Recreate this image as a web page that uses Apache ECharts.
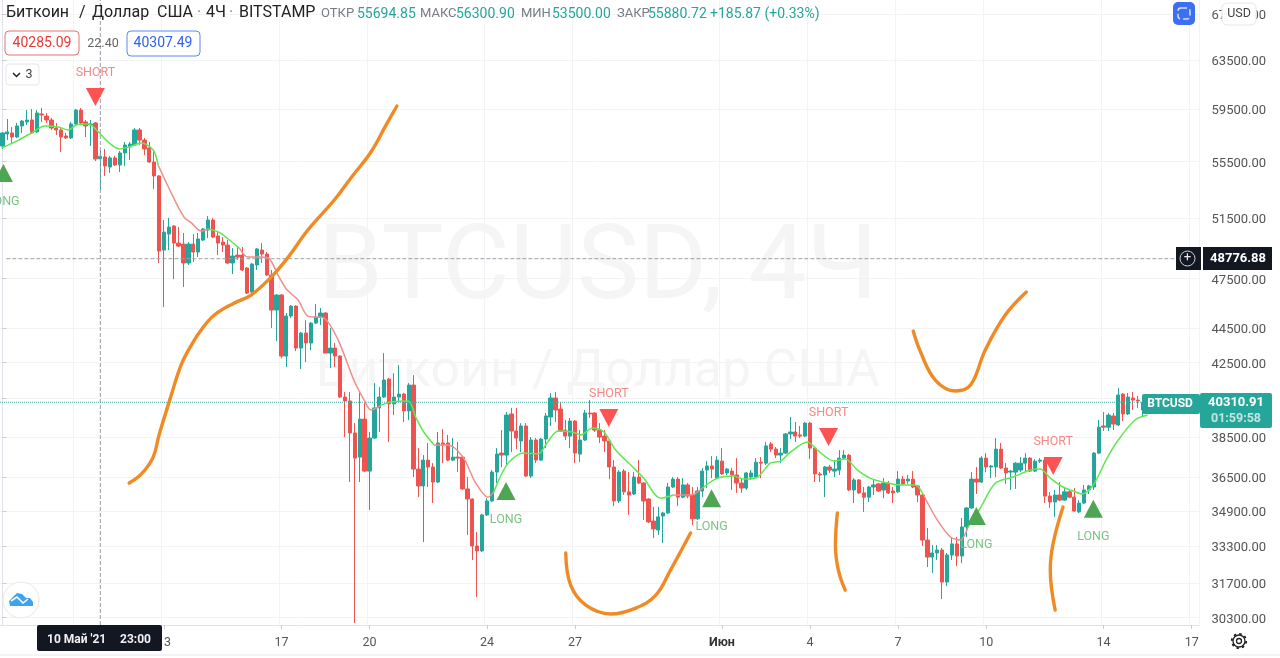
<!DOCTYPE html>
<html><head><meta charset="utf-8">
<style>html,body{margin:0;padding:0;background:#fff;overflow:hidden}#c{width:1280px;height:658px}</style>
<script src="https://cdn.jsdelivr.net/npm/echarts@6/dist/echarts.min.js"></script>
</head><body><div id="c"></div>
<script>
// rows are [open, close, low, high]
const candlesMay07 = [
[56650,57640,56430,57720],[57560,57720,57100,58720],[57640,57330,56880,58100],[57330,58180,57260,58410],[58180,58560,57640,58640],[58490,58640,58260,59420],
[58640,57640,57560,59500],[57720,59190,57640,59420],[59110,59030,58490,59580],[58950,58640,58410,59190],[58640,58020,57870,58800],[58020,57870,57490,58410],
[57870,57330,56200,58100],[57410,57260,57180,57640],[57260,58330,57180,58490],[58330,59420,58260,59500],[59420,58410,58330,59580],[58490,58180,57330,58640],
[58260,58330,56650,58640],[58410,55680,55530,58490],[55694.85,55880.72,53500,56300.90],[55830,55170,54440,56430],[55090,55760,54660,55910],[55760,55240,55170,55910],
[55240,56130,54730,56280],[56130,56730,55170,56950],[56580,56800,55610,56950],[56730,57870,56650,58020],[57870,57100,56730,58020],[57100,56430,55980,57260],
[56500,55460,55390,56950],[55460,54440,53500,56350],[54440,49280,48500,54510],[49340,50530,45740,51350],[50400,50870,49340,51490],[50940,49800,47470,51010],
[49800,49600,49540,50870],[49730,48500,46980,50470],[48500,49730,48370,49870],[49730,49210,48560,50400]];
const candlesMay14 = [
[49210,50070,48880,50470],[50000,50740,49930,50810],[50670,51350,50130,51620],[51350,50200,50130,51490],[50270,49800,49010,50530],[49870,49670,49210,50200],
[49670,48500,48430,50000],[48500,48950,47790,49470],[49010,48880,48690,49540],[49010,48050,47990,49540],[48180,46600,46540,48240],[46670,48430,46540,48500],
[48370,49410,48050,49470],[49340,49080,48500,49800],[49080,47730,47670,49210],[47730,45560,44490,48050],[45560,46480,43720,46540],[46480,42860,42740,46540],
[42860,45200,42240,45380],[45200,45800,45080,45860],[45800,43320,43140,45860],[43320,44190,42130,44250],[44190,43610,42520,44960],[43610,44780,43200,44840],
[44780,45140,44720,45920],[45140,45380,44660,45680],[45380,43030,43030,45440],[43030,43320,42180,44490],[43320,42860,42240,43610],[42860,40590,40540,42910],
[40590,40380,38490,40860],[40380,38700,36260,40860],[38700,37430,30070,39210],[37480,39420,36260,40810],[39420,36790,36740,40270],[36790,38440,34940,38750],
[38440,40010,38390,41350],[40010,40590,38750,41130],[40590,41520,40540,43030],[41570,40220,38240,41630]];
const candlesMay21 = [
[40220,40590,39630,41900],[40590,40750,40320,42350],[40750,39850,39270,40810],[39850,41240,39370,41350],[41240,36890,36500,41790],[36890,36070,35540,37930],
[36070,37330,33480,37580],[37330,36990,36020,38190],[36990,36260,35260,37180],[36260,38190,36210,38750],[38190,38090,37180,38900],[38190,37330,37280,38600],
[37330,37480,37280,38440],[37480,37430,36740,38240],[37480,35930,35880,37530],[35930,35450,33800,36500],[35450,33310,32690,35490],[33310,33090,31120,33930],
[33090,34710,33040,34760],[34710,35360,34660,35490],[35360,36740,35310,36840],[36740,37630,36210,37930],[37680,37580,36990,38850],[37580,39630,37090,39790],
[39690,38800,37730,40010],[38800,38440,37880,40010],[38290,39060,37730,39210],[39060,36550,36500,39210],[36550,38340,36450,38490],[38340,37330,37180,38440],
[37330,38390,37280,38440],[38390,39580,37930,39740],[39530,40540,39060,40810],[40540,39900,39270,40860],[39950,38800,38750,40320],[38850,38540,38340,39370],
[38540,39320,37930,39480],[39320,37680,37180,39370],[37630,38340,37230,38850],[38340,39740,38290,39900]];
const candlesMay28 = [
[39740,39690,39480,40430],[39740,38850,38750,39790],[38850,38490,38190,39210],[38540,38290,37730,38850],[38290,36990,36400,38390],[36990,35360,35120,37330],
[35360,36740,35260,36840],[36790,35790,35640,36890],[35790,35640,34710,36740],[35690,36500,35640,36740],[36500,36210,36170,37330],[36210,35360,34480,36260],
[35450,34390,34340,35490],[34430,34070,33660,35080],[34020,34620,33800,35080],[34660,34800,33440,34850],[34800,36020,34760,36210],[36020,36400,35970,36500],
[36400,35540,35120,36500],[35540,36120,35490,36450],[36120,35590,35490,36210],[35640,34530,34250,36020],[34530,35830,34480,36020],[35830,36790,35540,36940],
[36840,37040,35970,37280],[37040,36890,36450,37530],[36450,37330,36400,37530],[37280,36650,36600,37930],[36700,36890,36600,36940],[36790,36600,35880,36940],
[36600,36210,35740,37430],[36210,35970,35740,36450],[35970,36700,35880,36740],[36500,36700,36360,36840],[36500,37230,36450,37430],[37230,37180,36450,37480],
[37180,38040,37090,38240],[38140,37880,37730,38240],[37880,37580,37430,37980],[37580,37680,37180,37930]];
const candlesJun03 = [
[37680,38650,37630,38700],[38650,38750,38390,39530],[38750,38540,38240,39270],[38600,38540,38440,39060],[38540,39210,38490,39270],[39210,37930,37380,39270],
[37930,36650,36260,37980],[36650,36600,36260,36740],[36600,36990,35540,37040],[36990,36840,36700,37090],[36790,36890,36500,37330],[36840,37430,36600,37830],
[37430,37580,37380,37830],[37580,35880,35830,37630],[35880,36360,35260,36450],[36360,35740,35690,36400],[35740,35540,34850,36020],[35540,36020,35310,36070],
[36020,36120,35640,36400],[36170,35830,35790,36210],[35880,36210,35490,36450],[36210,35740,35690,36310],[35830,35740,35260,36020],[35790,36400,35740,36790],
[36400,36170,36120,36550],[36310,36400,36170,36600],[36400,36020,35970,36790],[36070,35640,35310,36120],[35640,33570,33310,35690],[33570,32820,32390,34110],
[32820,33000,32130,33350],[33000,33130,32690,33350],[33130,31750,31040,33220],[31750,32910,31580,33000],[32910,33400,32690,33660],[33400,32870,32430,33710],
[32870,34160,32560,34570],[34160,35030,33710,35080],[35030,36400,34990,36740],[36400,36260,35690,36990]];
const candlesJun10 = [
[36260,37430,36210,37530],[37430,36990,36740,37680],[36990,37040,36450,37090],[36990,37880,36500,38440],[37880,36940,36890,38190],[36940,36700,36170,37180],
[36740,36790,35880,36840],[36740,37180,35930,37230],[36840,37180,36740,37480],[37180,37430,36740,37680],[37430,36790,36740,37480],[36790,37280,36740,37380],
[37280,37330,37180,37430],[37330,35590,35260,37480],[35590,35310,35030,35790],[35310,35640,34620,35880],[35640,35400,35360,36260],[35400,35790,35360,35970],
[35790,35540,35490,35930],[35540,34890,34850,35970],[34850,35260,34800,35400],[35260,35880,35210,36120],[35880,36070,35690,36120],[36020,37680,35880,37730],
[37680,39000,37630,39370],[39060,39000,38800,39790],[39000,39630,38800,39740],[39580,39160,38850,39740],[39110,40700,39060,41080],[40750,39690,39320,40810],
[39690,40590,39630,40810],[40540,40430,39900,40860],[40430,40380,40010,40650],[39900,40310.91,39530,40480]];

const tickIndex = [15,33,57,75,99,117,147,165,183,201,225,243];
const tickText = ['10','13','17','20','24','27','Июн','4','7','10','14','17'];
const priceTicks = [67500,63500,59500,55500,51500,47500,44500,42500,40500,38500,36500,34900,33300,31700,30300];

// moving average: candle position, price, rising (1) / falling (0) run
const emaIdx = [-0.2,3.3,6.3,8.6,11.4,13.5,15.1,17.6,19.2,21.6,23.9,25.9,28.4,30.8,31.8,34.5,37.1,38.6,40.6,42,44.2,46.1,48.4,50.2,52.2,54.3,56.3,58,60.4,62.4,65.7,68.6,71.8,73.9,75.3,77.4,79.4,82.9,84.5,86.1,88.2,91,94.1,96.7,99.2,100.4,103.3,106.5,109.4,111.4,113.5,116.5,118.2,120.6,122.9,125.3,129,131,134.5,137.1,140.6,143.3,146.1,149.4,151.4,154.3,156.9,159,161,164.5,166.5,170,172.2,174.7,177.3,180.8,183.5,186.5,188.2,191,193.7,195.7,197.3,199.8,202.9,206.5,210,212,214.1,216.7,218.8,220.6,222.9,225.7,228,231.4,234];
const emaPrice = [56500,57100,57720,58180,58100,57870,58260,58330,57870,56950,56430,56580,56880,56350,55240,53220,51550,51150,50600,50740,50530,50070,49470,48880,48880,48820,47730,46850,46170,45200,45080,43780,41520,40430,39900,40160,40320,40380,39480,38750,38090,38090,37480,36210,35540,35790,37180,37680,37630,38240,38800,38750,38600,38960,38750,37830,36940,36450,35490,35640,35640,36020,36450,36550,36400,36500,37180,37280,37730,38240,37830,37280,37380,36840,36450,36210,36120,36120,35640,34480,33710,33570,34160,35030,36210,36500,36840,36890,36450,36020,35830,35690,36120,37430,38340,39370,39630];
const emaRunEnd = [13,18,21,34,39,44,58,60,77,81,96];   // last point of each colour run, first run is green
const sketchA = [[25.9,36210],[28.4,36650],[30.8,37480],[32,38600],[34.5,40700],[36.5,42350],[38.6,43490],[40.6,44370],[43.3,45260],[47.3,45980],[50.8,46480],[54.9,47600],[58.4,48880],[62.4,50670],[67.8,52730],[71.2,54300],[75.3,56200],[78.4,58260],[80.6,59740]];
const sketchB = [[115.1,33000],[116.1,31620],[119.2,30790],[124.3,30430],[129.4,30670],[133.5,31200],[136.5,32260],[140.6,33890]];
const sketchC = [[170.6,34800],[170.2,33350],[170.8,32260],[172.2,31410]];
const sketchD = [[186.1,44310],[187.6,43090],[190.6,41520],[194.7,40920],[197.8,41240],[200.8,43200],[204.9,45260],[209.2,46670]];
const sketchE = [[216.7,35080],[214.7,33440],[214.1,32260],[215.1,30590]];
const shortSignals = [[19,60460],[123.9,39480],[168.8,38490],[214.7,37040]];
const longSignals = [[0.2,54660],[102.9,35830],[144.9,35490],[199,34660],[222.9,34990]];
const crosshairIdx = 20, crosshairPrice = 48776.88, lastPrice = 40310.91;

const candles = [].concat(candlesMay07,candlesMay14,candlesMay21,candlesMay28,candlesJun03,candlesJun10);
const SLOTS = 245;
const categories = [];
for (let i=0;i<SLOTS;i++){ const d=new Date(Date.UTC(2021,4,7,15+4*i)); categories.push(d.toISOString().slice(0,16).replace('T',' ')); }
const yMin = 29990, yMax = 68770;
const isTick = i => tickIndex.indexOf(i)>=0;
const UP='#26a69a', DOWN='#ef5350';
const FONT='Roboto, "Noto Sans", sans-serif';

// EMA runs
const emaSeries=[]; let start=0, green=true;
emaRunEnd.concat([emaIdx.length-1]).forEach(end=>{
  const pts=[]; for(let k=start;k<=end;k++) pts.push([emaIdx[k],emaPrice[k]]);
  if(end<emaIdx.length-1) pts.push([emaIdx[end+1],emaPrice[end+1]]);
  emaSeries.push({type:'line',xAxisIndex:1,data:pts,symbol:'none',smooth:0.3,z:4,silent:true,
    lineStyle:{color:green?'#5fe84f':'#f08e88',width:1.5}});
  start=end+1; green=!green;
});
const sketch=d=>({type:'line',xAxisIndex:1,data:d,symbol:'none',smooth:0.4,z:6,silent:true,
  lineStyle:{color:'#f08a24',width:3.4,cap:'round',join:'round'}});
const guide=(d,color,type)=>({type:'line',xAxisIndex:1,data:d,symbol:'none',z:3,silent:true,
  lineStyle:{color,width:1,type}});
const signal=(d,text,color,txt,rot,pos,dist)=>({type:'scatter',xAxisIndex:1,data:d,symbol:'triangle',symbolSize:[19,18],symbolRotate:rot,z:7,silent:true,
  itemStyle:{color,opacity:1},
  label:{show:true,formatter:text,position:pos,distance:dist,color:txt,fontSize:12.5,fontFamily:FONT}});

const T=(text,x,y,font,fill,align)=>({type:'text',z:100,style:{text,x,y,font,fill,align:align||'left',verticalAlign:'middle'}});
const R=(x,y,w,h,fill,stroke,r,dash)=>({type:'rect',z:99,shape:{x,y,width:w,height:h,r:r||0},style:{fill,stroke:stroke||null,lineWidth:dash?1.5:1,lineDash:dash||null}});
const ttl='16px '+FONT, sm='14px '+FONT, lab='13px '+FONT;

const graphic=[
 {type:'text',z:-1,style:{text:'BTCUSD, 4Ч',x:598,y:272,align:'center',verticalAlign:'middle',font:'104px '+FONT,fill:'#f5f5f5'}},
 {type:'text',z:-1,style:{text:'Биткоин / Доллар США',x:598,y:373,align:'center',verticalAlign:'middle',font:'51.6px '+FONT,fill:'#f5f5f5'}},
 T('Биткоин',6,13,ttl,'#222'),T('/',79,13,ttl,'#222'),T('Доллар',92,13,ttl,'#222'),T('США',157,13,ttl,'#222'),
 T('·',197,13,ttl,'#888'),T('4Ч',206,13,ttl,'#222'),T('·',229,13,ttl,'#888'),T('BITSTAMP',239,13,ttl,'#222'),
 T('ОТКР',321,14,lab,'#787b86'),T('55694.85',357,14,sm,UP),
 T('МАКС',420,14,lab,'#787b86'),T('56300.90',456,14,sm,UP),
 T('МИН',521,14,lab,'#787b86'),T('53500.00',552,14,sm,UP),
 T('ЗАКР',617,14,lab,'#787b86'),T('55880.72',648,14,sm,UP),
 T('+185.87 (+0.33%)',710,14,sm,UP),
 R(5,31,74,24,'#fff','#e57373',4),T('40285.09',42,43,sm,'#e53935','center'),
 T('22.40',103,44,'12.5px '+FONT,'#666','center'),
 R(127,31,73,25,'#fff','#5c86f0',4),T('40307.49',163,43,sm,'#2f62e8','center'),
 R(6,64,33,21,'#fff','#e6e6e6',3),
 {type:'polyline',z:100,shape:{points:[[13,73],[16.5,76.5],[20,73]]},style:{stroke:'#222',fill:null,lineWidth:1.5}},
 T('3',29,75,'12.5px '+FONT,'#444','center'),
 // right-hand price labels
 R(1176,247,25,23,'#131722'),
 {type:'circle',z:100,shape:{cx:1187.5,cy:258.5,r:7.5},style:{fill:null,stroke:'#cfd2d9',lineWidth:1}},
 T('+',1187.5,258,'13px '+FONT,'#e8e8e8','center'),
 R(1203,247,69,23,'#131722'),T('48776.88',1238,259,'bold 13px '+FONT,'#fff','center'),
 R(1142,394,58,20,UP,null,2),T('BTCUSD',1170,404,'bold 12px '+FONT,'#fff','center'),
 R(1200,393,72,35,UP,null,2),T('40310.91',1236,403,'bold 13px '+FONT,'#fff','center'),T('01:59:58',1236,419,'bold 12.5px '+FONT,'#bfe6e1','center'),
 // time label
 R(37,625,125,26,'#131722',null,2),T("10 Май '21",47,640,'bold 12px '+FONT,'#f0f0f0'),T('23:00',120,640,'bold 12px '+FONT,'#f0f0f0'),
 // top-right buttons
 R(1173,2,22,23,'#3d6ff5',null,5),R(1178,8,12,11,null,'#d5e0ff',3,[6,3]),
 R(1222,3,34,22,'#fff','#e6e6e6',5),T('USD',1239,14,'12.5px '+FONT,'#444','center'),
 // logo, settings, frame
 {type:'circle',z:100,shape:{cx:21,cy:600,r:18},style:{fill:'#fff',stroke:'#e8e8e8',lineWidth:1}},
 {type:'polygon',z:101,shape:{points:[[10,606],[9,601],[13,597],[17,593],[22,594],[26,598],[30,598],[33,602],[33,606]]},style:{fill:'#3fa2ef'}},
 {type:'polyline',z:102,shape:{points:[[11,601],[17,597],[23,603],[28,599]]},style:{stroke:'#fff',fill:null,lineWidth:1.6}},
 {type:'circle',z:100,shape:{cx:1239,cy:641,r:2.5},style:{fill:null,stroke:'#222',lineWidth:1.3}},
 {type:'circle',z:100,shape:{cx:1239,cy:641,r:6},style:{fill:null,stroke:'#222',lineWidth:1.3}},
 {type:'circle',z:100,shape:{cx:1239,cy:641,r:7.2},style:{fill:null,stroke:'#222',lineWidth:1.8,lineDash:[2.5,3.15]}},
 {type:'line',z:99,shape:{x1:0,y1:655,x2:1280,y2:655},style:{stroke:'#e8e8e8',lineWidth:1}}
];

const chart=echarts.init(document.getElementById('c'),null,{renderer:'canvas'});
chart.setOption({
 animation:false,backgroundColor:'#fff',graphic,
 grid:{left:-1.45,top:0,width:1200.5,height:625},
 xAxis:[
  {type:'category',data:categories,boundaryGap:true,position:'bottom',
   axisLine:{lineStyle:{color:'#e0e3eb'}},
   axisTick:{show:true,length:4,lineStyle:{color:'#ccc'},interval:(i)=>isTick(i),alignWithLabel:true},
   splitLine:{show:true,interval:(i)=>isTick(i),lineStyle:{color:'#f2f3f5',width:1}},
   axisLabel:{interval:(i)=>isTick(i),margin:11,fontSize:12.5,fontFamily:FONT,color:'#555',hideOverlap:false,
     formatter:(v,i)=>{const k=tickIndex.indexOf(i);if(k<0)return '';return tickText[k]==='Июн'?'{b|Июн}':tickText[k];},
     rich:{b:{fontWeight:'bold',color:'#333',fontSize:12.5,fontFamily:FONT}}}},
  {type:'value',min:-0.5,max:SLOTS-0.5,show:false,position:'bottom'}
 ],
 yAxis:{type:'log',logBase:10,min:yMin,max:yMax,position:'right',offset:1.5,
   axisLine:{show:true,lineStyle:{color:'#e0e3eb'}},
   axisTick:{show:true,length:4,lineStyle:{color:'#ccc'},customValues:priceTicks},
   axisLabel:{fontSize:13,fontFamily:FONT,color:'#555',margin:11,verticalAlign:'top',lineHeight:4,customValues:priceTicks,formatter:v=>Number(v).toFixed(2)},
   splitLine:{show:true,lineStyle:{color:'#f2f3f5',width:1}},minorTick:{show:false},minorSplitLine:{show:false}},
 series:[
  {type:'candlestick',data:candles,barWidth:3.8,z:2,silent:true,
   itemStyle:{color:UP,color0:DOWN,borderColor:UP,borderColor0:DOWN,borderWidth:1}},
  guide([[crosshairIdx,yMin],[crosshairIdx,yMax]],'#9a9ea6','dashed'),
  guide([[0.8,crosshairPrice],[239.6,crosshairPrice]],'#9a9ea6','dashed'),
  guide([[-0.5,lastPrice],[233,lastPrice]],'#43b3a8','dotted'),
  ...emaSeries,
  sketch(sketchA),sketch(sketchB),sketch(sketchC),sketch(sketchD),sketch(sketchE),
  signal(shortSignals,'SHORT','#ff5252','#f48a86',180,'top',9),
  signal(longSignals,'LONG','#4fa652','#7cc483',0,'bottom',13)
 ]
});
</script></body></html>
